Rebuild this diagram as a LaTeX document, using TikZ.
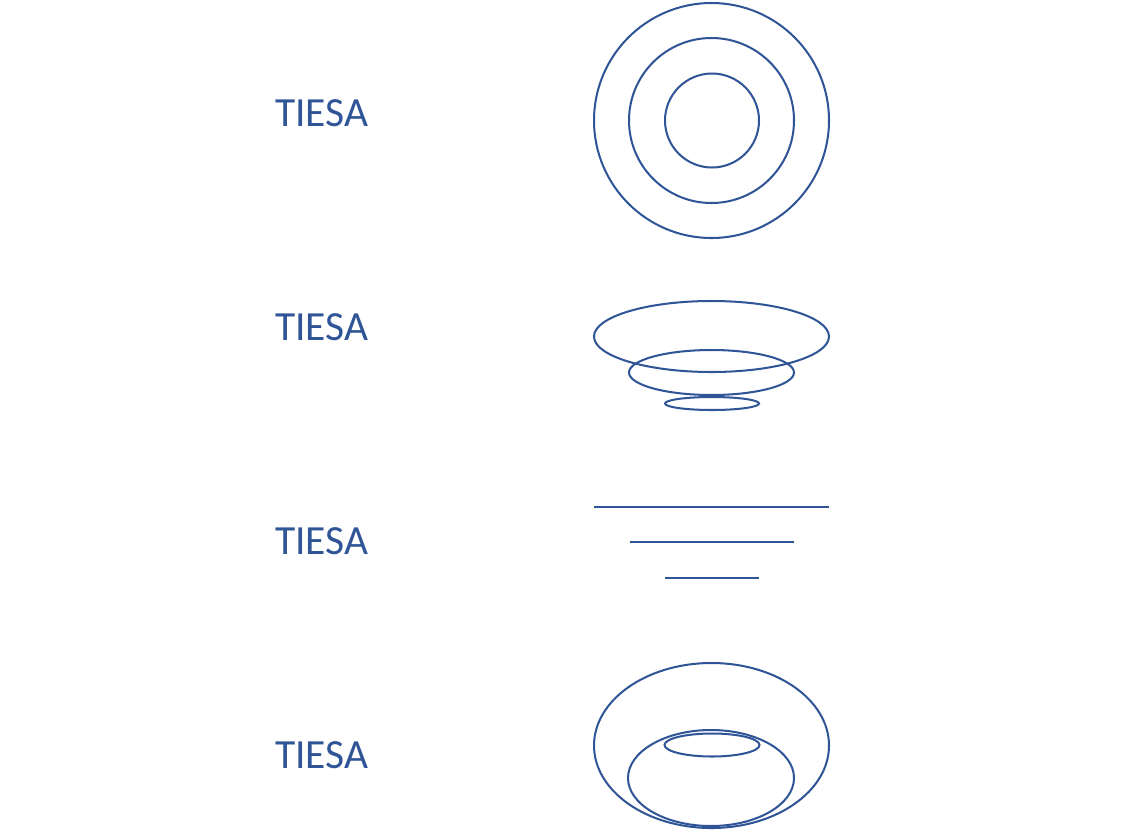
\documentclass[tikz,border=0pt]{standalone}
\usepackage{fontspec}
\setmainfont{Carlito}
\definecolor{tiesablue}{HTML}{2F5597}

\begin{document}
\begin{tikzpicture}[x=0.02cm, y=-0.02cm]
        \tikzstyle{word} = [anchor=base west, inner sep=0pt, text=tiesablue, font=\fontsize{23.6}{28}\selectfont]
        \tikzstyle{outline} = [draw=tiesablue, line width=1.15pt]
        \useasboundingbox (0,0) rectangle (1122,829);
        % labels
        \node[word] (t1) at (275,126) {TIESA};
        \node[word] (t2) at (275,340) {TIESA};
        \node[word] (t3) at (275,554) {TIESA};
        \node[word] (t4) at (275,768) {TIESA};
        % circles
        \draw[outline] (711.5,120.5) circle [radius=117.5];
        \draw[outline] (711.5,120.5) circle [radius=82.5];
        \draw[outline] (712,120.5) circle [radius=47];
        % ellipses
        \draw[outline] (711.5,336.5) ellipse [x radius=117.5, y radius=35.5];
        \draw[outline] (711.5,372.5) ellipse [x radius=82.5, y radius=22.5];
        \draw[outline] (712,403.5) ellipse [x radius=47, y radius=6.5];
        % lines
        \draw[outline] (594,507) -- (829,507);
        \draw[outline] (630,542) -- (794,542);
        \draw[outline] (665,578) -- (759,578);
        % torus
        \draw[outline] (711.5,745.5) ellipse [x radius=117.5, y radius=82.5];
        \draw[outline] (711,778) ellipse [x radius=83, y radius=48];
        \draw[outline] (712,745) ellipse [x radius=47.5, y radius=11.5];
\end{tikzpicture}
\end{document}
